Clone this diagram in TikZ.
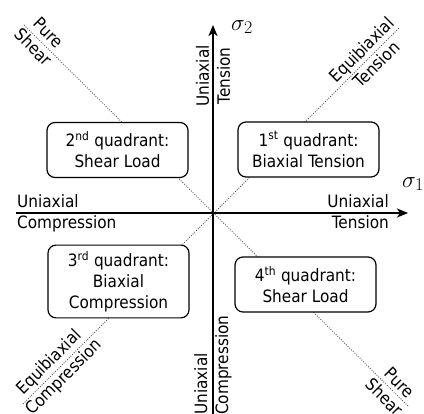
\RequirePackage{fix-cm}
\documentclass[tikz,border=0pt]{standalone}
\usepackage{fontspec}
\setmainfont{DejaVu Sans Condensed}
\usetikzlibrary{arrows.meta}
\newcommand{\sigsub}[1]{$\sigma_{\mbox{\fontsize{18}{18}\selectfont$#1$}}$}
\begin{document}
\begin{tikzpicture}[x=1pt,y=-1pt,
  every node/.style={font=\fontsize{17}{21}\selectfont, inner sep=0pt},
  quad/.style={draw, line width=1.2pt, rounded corners=8pt, fill=white, align=center,
    minimum width=141pt, minimum height=55pt, inner ysep=6pt},
  lbl/.style={align=center},
  axis/.style={line width=2.2pt, -{Stealth[length=11pt,width=9pt,inset=3pt]}},
  diag/.style={black!65, line width=0.8pt, dash pattern=on 1pt off 1.4pt},
  sig/.style={font=\fontsize{23}{27}\selectfont}
]
\useasboundingbox (0,0) rectangle (424,414);
% diagonals
\coordinate (O) at (213,213);
\coordinate (ps1) at (24,25);
\coordinate (ps2) at (409,407);
\coordinate (eb1) at (23,404);
\coordinate (eb2) at (399,28);
\draw[diag] (ps1) -- (ps2);
\draw[diag] (eb1) -- (eb2);
% axes
\coordinate (xs) at (16,213);
\coordinate (xe) at (408,213);
\coordinate (ys) at (213,414);
\coordinate (ye) at (213,25);
\draw[axis] (xs) -- (xe);
\draw[axis] (ys) -- (ye);
% axis symbols
\node[sig, anchor=west] (s1) at (402,184) {\sigsub{1}};
\node[sig, anchor=west] (s2) at (231,27) {\sigsub{2}};
% quadrant boxes
\node[quad] (q1) at (308.5,149.5) {1\textsuperscript{st} quadrant:\\Biaxial Tension};
\node[quad] (q2) at (117.5,150) {2\textsuperscript{nd} quadrant:\\Shear Load};
\node[quad] (q3) at (118.5,281.5) {3\textsuperscript{rd} quadrant:\\Biaxial\\Compression};
\node[quad] (q4) at (305.5,284.5) {4\textsuperscript{th} quadrant:\\Shear Load};
% axis labels
\node[align=left, anchor=west] (lc) at (17,213.5) {Uniaxial\\Compression};
\node[align=right, anchor=east] (rt) at (389,212) {Uniaxial\\Tension};
\node[lbl, rotate=90] (ut) at (213,76) {Uniaxial\\Tension};
\node[align=left, rotate=90, anchor=west] (dc) at (213,415) {Uniaxial\\Compression};
% diagonal labels
\node[lbl, rotate=-45] (psa) at (41,40) {Pure\\Shear};
\node[lbl, rotate=-45] (psb) at (392,390) {Pure\\Shear};
\node[lbl, rotate=45] (eta) at (369,57) {Equibiaxial\\Tension};
\node[lbl, rotate=45] (ecb) at (57,370) {Equibiaxial\\Compression};
\end{tikzpicture}
\end{document}
